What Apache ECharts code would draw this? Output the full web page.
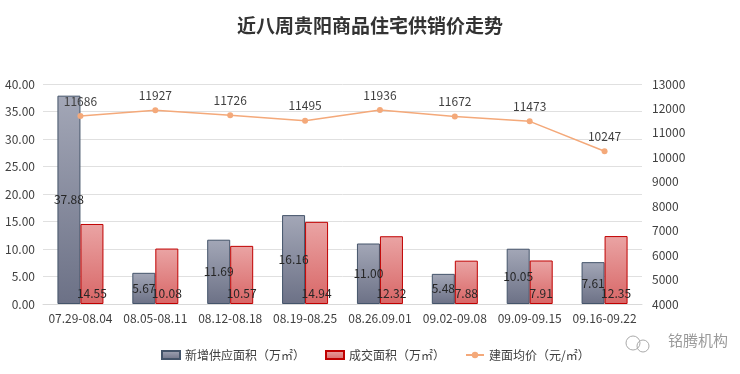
<!DOCTYPE html>
<html><head><meta charset="utf-8">
<script src="https://cdn.jsdelivr.net/npm/echarts@6/dist/echarts.min.js"></script>
<style>html,body{margin:0;padding:0;background:#fff}#c{width:740px;height:374px}</style>
</head><body><div id="c"></div>
<script>
const categories = ['07.29-08.04','08.05-08.11','08.12-08.18','08.19-08.25','08.26.09.01','09.02-09.08','09.09-09.15','09.16-09.22'];
const supply = [37.88, 5.67, 11.69, 16.16, 11.00, 5.48, 10.05, 7.61];
const deals = [14.55, 10.08, 10.57, 14.94, 12.32, 7.88, 7.91, 12.35];
const price = [11686, 11927, 11726, 11495, 11936, 11672, 11473, 10247];
const seriesNames = ['新增供应面积（万㎡）','成交面积（万㎡）','建面均价（元/㎡）'];
const title = '近八周贵阳商品住宅供销价走势';

const font = '"Noto Sans CJK SC", sans-serif';
const chart = echarts.init(document.getElementById('c'));
chart.setOption({
  backgroundColor: '#fff',
  textStyle: {fontFamily: font},
  title: {text: title, left: 'center', top: 11,
    textStyle: {fontSize: 19, fontWeight: 'bold', color: '#333', fontFamily: font}},
  grid: {left: 43, right: 98, top: 84, bottom: 70},
  legend: {bottom: 8, left: 156, itemWidth: 18, itemHeight: 8, itemGap: 20,
    textStyle: {fontSize: 12, color: '#404040'},
    data: [{name: seriesNames[0], icon: 'rect'}, {name: seriesNames[1], icon: 'rect'}, {name: seriesNames[2]}]},
  xAxis: {type: 'category', data: categories,
    axisLine: {lineStyle: {color: '#d9d9d9'}}, axisTick: {show: false},
    axisLabel: {color: '#404040', fontSize: 12, margin: 8, interval: 0}},
  yAxis: [
    {type: 'value', min: 0, max: 40, interval: 5,
     axisLabel: {color: '#404040', fontSize: 12, formatter: v => v.toFixed(2)},
     splitLine: {lineStyle: {color: '#e0e0e0'}}},
    {type: 'value', min: 4000, max: 13000, interval: 1000,
     axisLabel: {color: '#404040', fontSize: 12, margin: 10, formatter: v => String(v)},
     splitLine: {show: false}}
  ],
  series: [
    {name: seriesNames[0], type: 'bar', data: supply, barWidth: 23, barGap: '0%',
     itemStyle: {borderColor: '#44546a', borderWidth: 1,
       color: new echarts.graphic.LinearGradient(0,0,0,1,[{offset:0,color:'#a3a7b7'},{offset:1,color:'#6c7186'}])},
     label: {show: true, position: 'inside', color: '#262626', fontSize: 12, formatter: p => p.value.toFixed(2)}},
    {name: seriesNames[1], type: 'bar', data: deals, barWidth: 23,
     itemStyle: {borderColor: '#c00000', borderWidth: 1,
       color: new echarts.graphic.LinearGradient(0,0,0,1,[{offset:0,color:'#eaa4a4'},{offset:1,color:'#d86666'}])},
     label: {show: true, position: 'insideBottom', distance: 5, color: '#262626', fontSize: 12, formatter: p => p.value.toFixed(2)}},
    {name: seriesNames[2], type: 'line', yAxisIndex: 1, data: price,
     symbol: 'circle', symbolSize: 6,
     lineStyle: {color: '#f4a97a', width: 1.5}, itemStyle: {color: '#f4a97a'},
     label: {show: true, position: 'top', distance: 6, color: '#404040', fontSize: 12}}
  ],
  graphic: [
    {type: 'text', right: 12, top: 333, style: {text: '铭腾机构', fontSize: 15, fill: '#9a9a9a', fontFamily: font}},
    {type: 'circle', shape: {cx: 633, cy: 343, r: 7}, style: {fill: 'none', stroke: '#aaa', lineWidth: 1}},
    {type: 'circle', shape: {cx: 643, cy: 346, r: 6}, style: {fill: 'none', stroke: '#aaa', lineWidth: 1}}
  ]
});
</script></body></html>
